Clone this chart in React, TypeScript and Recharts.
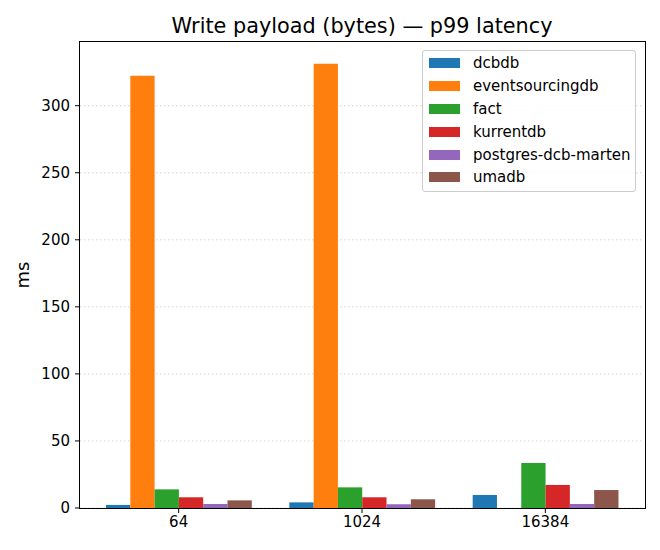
import React from "react";
import {
  BarChart,
  Bar,
  XAxis,
  YAxis,
  CartesianGrid,
} from "recharts";

const payloads = ["64", "1024", "16384"];
const dcbdb = [2.3, 4.2, 9.7];
const eventsourcingdb = [322.4, 331.3, 0];
const fact = [13.9, 15.4, 33.6];
const kurrentdb = [8.0, 8.0, 17.2];
const postgresDcbMarten = [3.0, 2.8, 3.0];
const umadb = [5.7, 6.5, 13.4];
const yTicks = [0, 50, 100, 150, 200, 250, 300];

const SERIES = [
  { key: "dcbdb", values: dcbdb, color: "#1f77b4" },
  { key: "eventsourcingdb", values: eventsourcingdb, color: "#ff7f0e" },
  { key: "fact", values: fact, color: "#2ca02c" },
  { key: "kurrentdb", values: kurrentdb, color: "#d62728" },
  { key: "postgres-dcb-marten", values: postgresDcbMarten, color: "#9467bd" },
  { key: "umadb", values: umadb, color: "#8c564b" },
];

const chartData = payloads.map((name, i) => {
  const row: Record<string, string | number> = { name };
  SERIES.forEach((s) => {
    row[s.key] = s.values[i];
  });
  return row;
});

const FONT = "'DejaVu Sans', sans-serif";
const tickStyle = { fill: "#000", fontSize: 15, fontFamily: FONT };

export default function App() {
  return (
    <div
      style={{
        position: "absolute",
        left: 0,
        top: 0,
        width: 660,
        height: 550,
        background: "#fff",
        fontFamily: FONT,
      }}
    >
      <div
        style={{
          position: "absolute",
          left: 80,
          width: 564,
          top: 13,
          textAlign: "center",
          fontSize: 20.8,
          lineHeight: "26px",
          color: "#000",
        }}
      >
        Write payload (bytes) — p99 latency
      </div>
      <div
        style={{
          position: "absolute",
          left: 23,
          top: 275,
          transform: "translate(-50%, -50%) rotate(-90deg)",
          fontSize: 18,
          lineHeight: "20px",
          color: "#000",
        }}
      >
        ms
      </div>
      <BarChart
        width={660}
        height={550}
        data={chartData}
        margin={{ top: 42, right: 16, bottom: 12, left: 20 }}
        barGap={0}
        style={{ position: "absolute", left: 0, top: 0 }}
      >
        <CartesianGrid
          vertical={false}
          stroke="#d6d6d6"
          strokeDasharray="1.5 2.5"
          horizontalValues={yTicks}
        />
        <XAxis
          dataKey="name"
          height={30}
          padding={{ left: 7, right: 7 }}
          axisLine={false}
          stroke="#000"
          tickSize={5}
          tickMargin={3}
          tick={tickStyle}
          interval={0}
        />
        <YAxis
          width={60}
          domain={[0, 347.5]}
          ticks={yTicks}
          allowDataOverflow
          axisLine={false}
          stroke="#000"
          tickSize={5}
          tickMargin={5}
          tick={tickStyle}
        />
        {SERIES.map((s) => (
          <Bar
            key={s.key}
            dataKey={s.key}
            fill={s.color}
            barSize={24.3}
            isAnimationActive={false}
          />
        ))}
      </BarChart>
      <div
        style={{
          position: "absolute",
          left: 79.4,
          top: 41.4,
          width: 564.6,
          height: 466,
          border: "1.2px solid #000",
          pointerEvents: "none",
        }}
      />
      <div
        style={{
          position: "absolute",
          left: 422,
          top: 50,
          width: 212,
          height: 140,
          border: "1px solid #cccccc",
          borderRadius: 3,
          background: "rgba(255,255,255,0.8)",
          boxSizing: "content-box",
        }}
      >
        {SERIES.map((s, i) => (
          <div
            key={s.key}
            style={{
              position: "absolute",
              left: 0,
              top: 1 + i * 22.8,
              height: 22.8,
              display: "flex",
              alignItems: "center",
              fontSize: 15,
              color: "#000",
              whiteSpace: "nowrap",
            }}
          >
            <span
              style={{
                display: "inline-block",
                width: 31,
                height: 10,
                marginLeft: 6,
                marginRight: 13,
                background: s.color,
              }}
            />
            {s.key}
          </div>
        ))}
      </div>
    </div>
  );
}
